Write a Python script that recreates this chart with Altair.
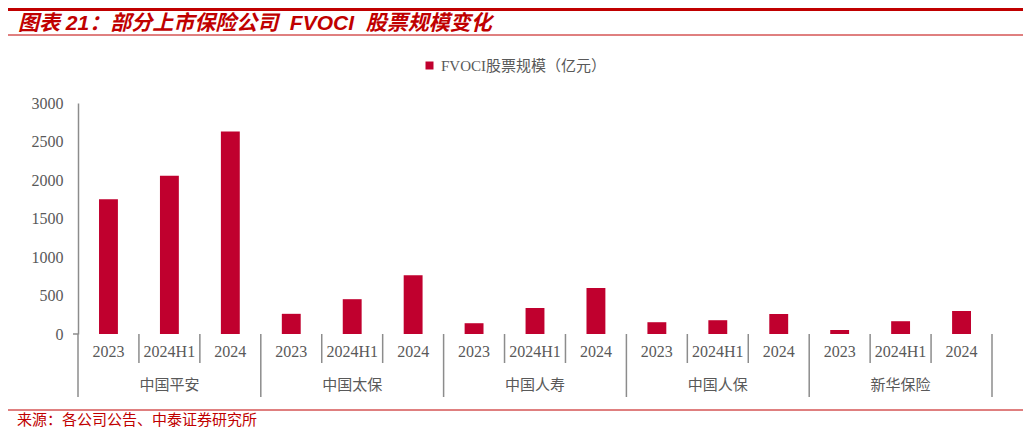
import altair as alt
import pandas as pd

companies = ["中国平安", "中国太保", "中国人寿", "中国人保", "新华保险"]
periods = ["2023", "2024H1", "2024"]
values_pingan = [1750, 2055, 2630]
values_cpic = [262, 452, 763]
values_clife = [140, 338, 597]
values_picc = [153, 179, 260]
values_nci = [52, 166, 299]
series_name = "FVOCI股票规模（亿元）"
y_ticks = [0, 500, 1000, 1500, 2000, 2500, 3000]
title_text = "图表\u00a021：部分上市保险公司\u00a0\u00a0FVOCI\u00a0\u00a0股票规模变化"
source_text = "来源：各公司公告、中泰证券研究所"

RED = "#C0002E"
TRED = "#C00000"
GREY = "#8C8C8C"
LBL = "#595959"
SERIF = "Liberation Serif, Noto Sans CJK SC"
CJK = "Noto Sans CJK SC"

all_vals = [values_pingan, values_cpic, values_clife, values_picc, values_nci]
rows = []
for c, vals in zip(companies, all_vals):
    for p, v in zip(periods, vals):
        rows.append({"id": c + "|" + p, "company": c, "period": p,
                     "value": v, "series": series_name})
df = pd.DataFrame(rows)
order = list(df["id"])

W, H = 914, 231
xscale = alt.Scale(domain=order, paddingInner=0, paddingOuter=0)

bars = alt.Chart(df).mark_bar(width=alt.RelativeBandSize(0.31)).encode(
    x=alt.X("id:N", scale=xscale, sort=order,
            axis=alt.Axis(title=None, labels=False, ticks=False, tickSize=0,
                          domainColor=GREY, domainWidth=1.5)),
    y=alt.Y("value:Q", scale=alt.Scale(domain=[0, 3000], nice=False),
            axis=alt.Axis(title=None, values=y_ticks, format="d", grid=False,
                          ticks=False, tickSize=0, domainColor=GREY,
                          domainWidth=1.5, labelFont=SERIF, labelFontSize=16,
                          labelColor=LBL, labelPadding=15)),
    color=alt.Color("series:N", scale=alt.Scale(range=[RED]),
                    legend=alt.Legend(title=None, orient="none", legendX=344,
                                      legendY=-45, symbolType="square",
                                      symbolSize=64, symbolStrokeWidth=0,
                                      labelFont=SERIF, labelFontSize=15,
                                      labelLimit=400,
                                      labelColor=LBL, padding=0, labelOffset=4)),
)

year_labels = alt.Chart(df).mark_text(
    font=SERIF, fontSize=16, color=LBL, baseline="middle", align="center"
).encode(
    x=alt.X("id:N", scale=xscale, sort=order, axis=None),
    y=alt.value(H + 18), text="period:N")

short_df = df[df["period"] != "2023"]
group_start_df = df[df["period"] == "2023"]
group_end_df = df.iloc[[-1]]

short_rules = alt.Chart(short_df).mark_rule(color=GREY, strokeWidth=1.5).encode(
    x=alt.X("id:N", scale=xscale, sort=order, bandPosition=0, axis=None),
    y=alt.value(H), y2=alt.value(H + 29))
group_rules = alt.Chart(group_start_df).mark_rule(color=GREY, strokeWidth=1.5).encode(
    x=alt.X("id:N", scale=xscale, sort=order, bandPosition=0, axis=None),
    y=alt.value(H), y2=alt.value(H + 63))
end_rule = alt.Chart(group_end_df).mark_rule(color=GREY, strokeWidth=1.5).encode(
    x=alt.X("id:N", scale=xscale, sort=order, bandPosition=1, axis=None),
    y=alt.value(H), y2=alt.value(H + 63))

mid_df = df[df["period"] == "2024H1"]
group_labels = alt.Chart(mid_df).mark_text(
    font=CJK, fontSize=15, color=LBL, baseline="middle", align="center"
).encode(
    x=alt.X("id:N", scale=xscale, sort=order, axis=None),
    y=alt.value(H + 51), text="company:N")

stub = alt.Chart(pd.DataFrame({"a": [0]})).mark_rule(color=GREY, strokeWidth=1.5).encode(
    x=alt.value(-5), x2=alt.value(0), y=alt.value(H))

line_top = alt.Chart(pd.DataFrame({"a": [0]})).mark_rule(color=TRED, strokeWidth=3).encode(
    x=alt.value(-70), x2=alt.value(945), y=alt.value(-93.5))
line_title = alt.Chart(pd.DataFrame({"a": [0]})).mark_rule(color=TRED, strokeWidth=1).encode(
    x=alt.value(-70), x2=alt.value(945), y=alt.value(-68))
line_bottom = alt.Chart(pd.DataFrame({"a": [0]})).mark_rule(color=TRED, strokeWidth=1).encode(
    x=alt.value(-70), x2=alt.value(945), y=alt.value(307))

title = alt.Chart(pd.DataFrame({"t": [title_text]})).mark_text(
    font="Liberation Sans, Noto Sans CJK SC", fontSize=21, fontWeight="bold",
    fontStyle="italic", color=TRED, align="left", baseline="alphabetic"
).encode(x=alt.value(-60), y=alt.value(-73.5), text="t:N")

source = alt.Chart(pd.DataFrame({"t": [source_text]})).mark_text(
    font=CJK, fontSize=15, color=TRED, align="left", baseline="middle"
).encode(x=alt.value(-61), y=alt.value(317), text="t:N")

chart = alt.layer(
    bars, year_labels, short_rules, group_rules, end_rule, group_labels, stub,
    line_top, line_title, line_bottom, title, source
).properties(
    width=W, height=H,
    padding={"left": 70, "top": 95, "right": 31, "bottom": 104},
    autosize=alt.AutoSizeParams(type="none"),
    background="white",
).configure_view(stroke=None)

chart.save("out.html", embed_options={"renderer": "svg", "actions": False})
